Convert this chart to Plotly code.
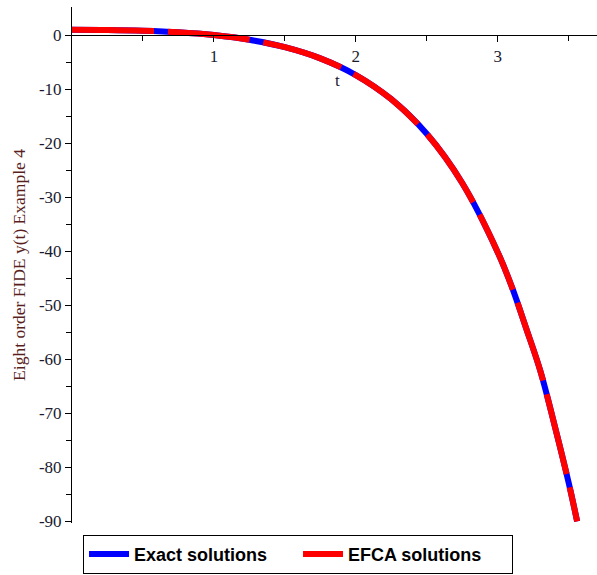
import plotly.graph_objects as go

# values
t_vals = [0.0, 0.25, 0.5, 0.75, 1.0, 1.25, 1.5, 1.75, 2.0, 2.25, 2.5, 2.75,
          3.0, 3.1, 3.2, 3.3, 3.4, 3.5, 3.56]
exact_y = [1.0, 0.96, 0.82, 0.53, 0.0, -0.87, -2.24, -4.31, -7.39, -11.86,
           -18.27, -27.37, -40.17, -46.6, -54.2, -62.1, -72.1, -82.8, -90.0]
efca_y = [1.0, 0.96, 0.82, 0.53, 0.0, -0.87, -2.24, -4.31, -7.39, -11.86,
          -18.27, -27.37, -40.17, -46.6, -54.2, -62.1, -72.1, -82.8, -90.0]
x_ticks = [1, 2, 3]
y_ticks = [0, -10, -20, -30, -40, -50, -60, -70, -80, -90]
y_tick_text = ["0", "-10", "-20", "-30", "-40", "-50", "-60", "-70", "-80", "-90"]

x_range = [0, 3.70]
y_range = [-90.3, 5.2]

fig = go.Figure()
fig.add_trace(go.Scatter(x=t_vals, y=exact_y, mode="lines", name="Exact solutions",
                         line=dict(color="#0000ff", width=6, shape="spline")))
fig.add_trace(go.Scatter(x=t_vals, y=efca_y, mode="lines", name="EFCA solutions",
                         line=dict(color="#ff0000", width=6, shape="spline", dash="82px,14px")))

serif = "Liberation Serif, Times New Roman, serif"
fig.update_layout(
    width=597, height=575,
    margin=dict(l=72, r=0, t=7, b=52, autoexpand=False),
    paper_bgcolor="white", plot_bgcolor="white",
    showlegend=True,
    legend=dict(orientation="h", x=0.021, y=-0.023, xanchor="left", yanchor="top",
                bordercolor="black", borderwidth=1, bgcolor="white",
                font=dict(family="Liberation Sans, Arial, sans-serif", size=18,
                          color="black", weight="bold"),
                itemwidth=40, tracegroupgap=0, entrywidth=159, entrywidthmode="pixels"),
    xaxis=dict(range=x_range, showgrid=False, zeroline=False, showline=True,
               linecolor="black", linewidth=1, ticks="outside", ticklen=6,
               tickcolor="black", tickvals=x_ticks, ticktext=[str(v) for v in x_ticks],
               tickfont=dict(family=serif, size=17, color="#1a1a2e"),
               minor=dict(tickvals=[0.5, 1.5, 2.5, 3.5], ticks="outside", ticklen=5,
                          tickcolor="black"),
               anchor="free", position=(0 - y_range[0]) / (y_range[1] - y_range[0])),
    yaxis=dict(range=y_range, showgrid=False, zeroline=False, showline=True,
               linecolor="black", linewidth=1, ticks="outside", ticklen=6,
               tickcolor="black", tickvals=y_ticks, ticktext=y_tick_text,
               tickfont=dict(family=serif, size=17, color="#1a1a2e"),
               minor=dict(tickvals=[-5, -15, -25, -35, -45, -55, -65, -75, -85],
                          ticks="outside", ticklen=5, tickcolor="black"),
               title=dict(text="Eight order FIDE y(t) Example 4",
                          font=dict(family=serif, size=17.5, color="#5a1e1e"), standoff=8)),
    annotations=[dict(x=1.87, y=-8.4, text="t", showarrow=False,
                      font=dict(family=serif, size=17, color="#1a1a2e"))],
)

fig.write_html("out.html")
